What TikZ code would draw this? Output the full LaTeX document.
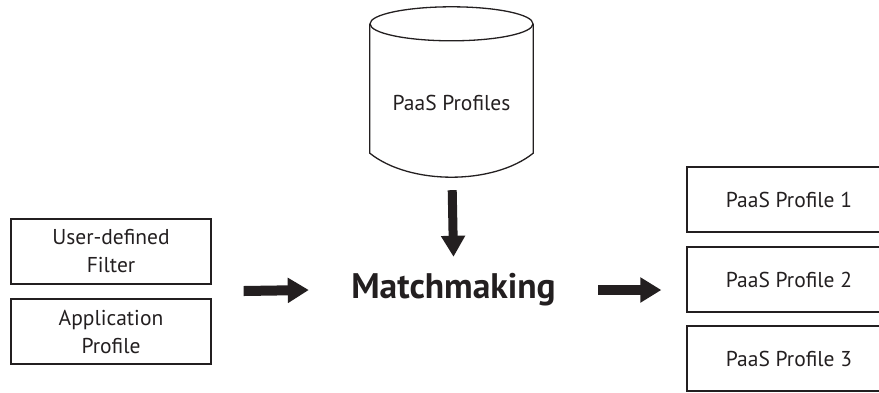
\documentclass[tikz,border=0pt]{standalone}
\usepackage{fontspec}
\setmainfont{PT Sans}
\usepackage{tikz}
\usetikzlibrary{positioning,arrows.meta,calc}
\definecolor{cink}{RGB}{35,31,32}

\begin{document}
\begin{tikzpicture}[x=1pt,y=-1pt,
  font=\fontsize{21.5}{28}\selectfont,
  box/.style={draw=cink,line width=1.3pt,minimum height=65pt,inner sep=0pt,align=center,text=cink},
  inbox/.style={box,minimum width=200pt},
  outbox/.style={box,minimum width=204pt},
  dbline/.style={draw=cink,line width=1.3pt},
  fat/.style={-{Triangle[length=21pt,width=24pt]},cink,line width=10pt},
]
\useasboundingbox (0,0) rectangle (879,392);
\clip (0,0) rectangle (879,392);
\node[inbox] (filter) at (111,251.5) {User-defined\\Filter};
\node[inbox] (app) at (111,331.5) {Application\\Profile};
\node[minimum width=289pt,minimum height=66pt,inner sep=0pt,text=cink,
  font=\fontsize{35.5}{40}\selectfont\bfseries] (match) at (453.5,290) {Matchmaking};
\node[outbox] (prof1) at (789,199.5) {PaaS Profile 1};
\node[outbox] (prof2) at (789,279.5) {PaaS Profile 2};
\node[outbox] (prof3) at (789,358.5) {PaaS Profile 3};
\node[minimum width=163pt,minimum height=129pt,inner sep=0pt] (db) at (451.5,88.5) {};
\node[text=cink,anchor=center,yshift=-14.5pt] (dbtext) at (db.center) {PaaS Profiles};
\draw[dbline] (db.north west) -- (db.south west)
  .. controls +(40,32) and +(-40,32) .. (db.south east) -- (db.north east);
\draw[dbline] (db.north) ellipse [x radius=81.5, y radius=17];
\draw[fat,shorten <=32pt] ($(filter.south east)!0.5!(app.north east)$) -- (match.west |- match.center);
\draw[fat,shorten >=25pt] (match.east) -- (match.east -| prof2.west);
\draw[fat,line width=9pt,-{Triangle[length=21pt,width=23pt]},shorten <=37pt] (db.south) -- (match.north);
\end{tikzpicture}
\end{document}
